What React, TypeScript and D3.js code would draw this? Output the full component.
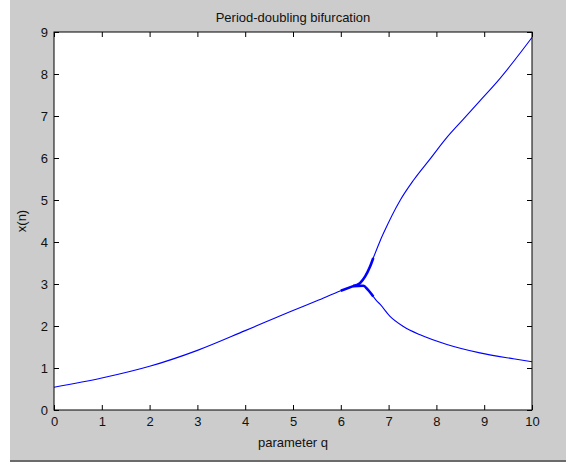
import React, { useEffect, useRef } from "react";
import * as d3 from "d3";

// single fixed point before the split
const stableQ = [0, 1, 2, 3, 4, 5, 5.5, 6, 6.26];
const stableX = [0.54, 0.76, 1.04, 1.42, 1.89, 2.37, 2.6, 2.84, 2.95];

// upper branch of the 2-cycle
const upperQ = [6.26, 6.4, 6.51, 6.61, 6.68, 6.82, 6.89, 7.24, 7.52, 7.87, 8.22, 8.57, 8.91, 9.26, 10];
const upperX = [2.95, 3.02, 3.18, 3.41, 3.62, 4.02, 4.2, 4.99, 5.47, 5.98, 6.49, 6.93, 7.36, 7.8, 8.87];

// lower branch of the 2-cycle
const lowerQ = [6.26, 6.47, 6.57, 6.68, 6.75, 6.82, 7.03, 7.31, 7.66, 8.22, 8.91, 9.61, 10];
const lowerX = [2.95, 2.96, 2.86, 2.7, 2.6, 2.52, 2.23, 1.99, 1.79, 1.56, 1.36, 1.22, 1.15];

const xTicks = [0, 1, 2, 3, 4, 5, 6, 7, 8, 9, 10];
const yTicks = [0, 1, 2, 3, 4, 5, 6, 7, 8, 9];

const App = () => {
  const ref = useRef<SVGSVGElement>(null);

  useEffect(() => {
    const width = 566;
    const height = 462;
    const margin = { top: 32, right: 34, bottom: 52, left: 54 };
    const innerWidth = width - margin.left - margin.right;
    const innerHeight = height - margin.top - margin.bottom;
    const font = "'Liberation Sans', Arial, sans-serif";

    const svg = d3.select(ref.current);
    svg.selectAll("*").remove();

    // figure background
    svg.append("rect").attr("width", width).attr("height", height).attr("fill", "#fff");
    svg.append("rect")
      .attr("x", 10).attr("y", 0)
      .attr("width", width - 10).attr("height", 460)
      .attr("fill", "#cccccc");
    svg.append("rect")
      .attr("x", 10).attr("y", 460)
      .attr("width", width - 10).attr("height", 2)
      .attr("fill", "#6b6b6b");

    const g = svg.append("g").attr("transform", `translate(${margin.left},${margin.top})`);

    g.append("rect")
      .attr("width", innerWidth)
      .attr("height", innerHeight)
      .attr("fill", "#fff");

    const x = d3.scaleLinear().domain([0, 10]).range([0, innerWidth]);
    const y = d3.scaleLinear().domain([0, 9]).range([innerHeight, 0]);

    const line = d3.line<[number, number]>()
      .x(d => x(d[0]))
      .y(d => y(d[1]))
      .curve(d3.curveMonotoneX);

    const series = [
      d3.zip(stableQ, stableX),
      d3.zip(upperQ, upperX),
      d3.zip(lowerQ, lowerX)
    ] as [number, number][][];

    const plot = g.append("g");
    series.forEach(s => {
      plot.append("path")
        .attr("d", line(s))
        .attr("fill", "none")
        .attr("stroke", "#0000ff")
        .attr("stroke-width", 1.1);
    });

    // smeared transient region around the split
    series.forEach(s => {
      const near = s.filter(d => d[0] >= 6.0 && d[0] <= 6.7);
      if (near.length < 2) return;
      plot.append("path")
        .attr("d", line(near))
        .attr("fill", "none")
        .attr("stroke", "#0000ff")
        .attr("stroke-width", 2.6);
    });

    const styleAxis = (a: d3.Selection<SVGGElement, unknown, null, undefined>) => {
      a.selectAll("text")
        .style("font-family", font)
        .style("font-size", "13px")
        .attr("fill", "#111");
      a.select(".domain").remove();
      a.selectAll("line").attr("stroke", "#000");
    };

    const bottom = g.append("g")
      .attr("transform", `translate(0,${innerHeight})`)
      .call(d3.axisBottom(x).tickValues(xTicks).tickSizeInner(-5).tickSizeOuter(0).tickPadding(7));
    styleAxis(bottom);

    const top = g.append("g")
      .call(d3.axisTop(x).tickValues(xTicks).tickSizeInner(-5).tickSizeOuter(0).tickFormat(() => ""));
    styleAxis(top);

    const left = g.append("g")
      .call(d3.axisLeft(y).tickValues(yTicks).tickSizeInner(-5).tickSizeOuter(0).tickPadding(6));
    styleAxis(left);

    const right = g.append("g")
      .attr("transform", `translate(${innerWidth},0)`)
      .call(d3.axisRight(y).tickValues(yTicks).tickSizeInner(-5).tickSizeOuter(0).tickFormat(() => ""));
    styleAxis(right);

    // axes box
    g.append("rect")
      .attr("width", innerWidth)
      .attr("height", innerHeight)
      .attr("fill", "none")
      .attr("stroke", "#000")
      .attr("stroke-width", 1);

    svg.append("text")
      .attr("x", margin.left + innerWidth / 2)
      .attr("y", 22)
      .attr("text-anchor", "middle")
      .style("font-family", font)
      .style("font-size", "13px")
      .attr("fill", "#111")
      .text("Period-doubling bifurcation");

    svg.append("text")
      .attr("x", margin.left + innerWidth / 2)
      .attr("y", 447)
      .attr("text-anchor", "middle")
      .style("font-family", font)
      .style("font-size", "13px")
      .attr("fill", "#111")
      .text("parameter q");

    svg.append("text")
      .attr("transform", `translate(26,${margin.top + innerHeight / 2}) rotate(-90)`)
      .attr("text-anchor", "middle")
      .style("font-family", font)
      .style("font-size", "13px")
      .attr("fill", "#111")
      .text("x(n)");
  }, []);

  return (
    <svg
      ref={ref}
      width={566}
      height={462}
      style={{ position: "absolute", left: 0, top: 0, display: "block" }}
    />
  );
};

export default App;
